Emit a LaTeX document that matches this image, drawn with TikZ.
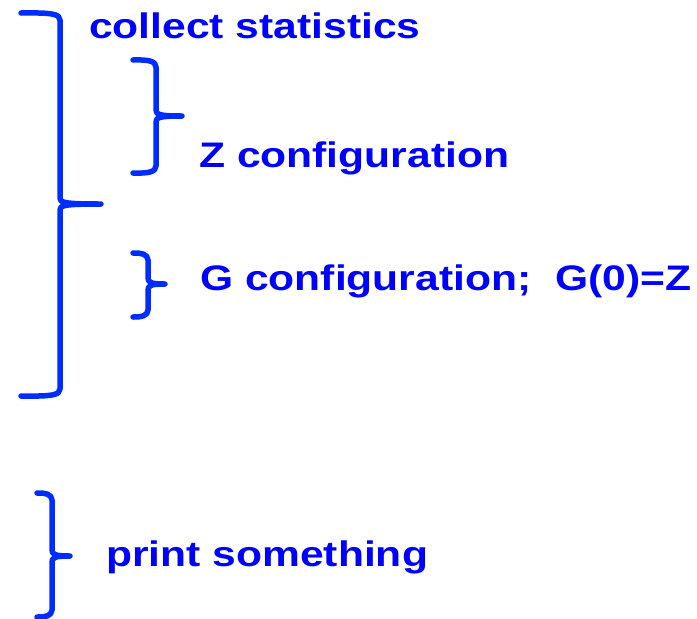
\documentclass[tikz,border=0pt]{standalone}
\usepackage{fontspec}
\setmainfont{Liberation Sans}
\usepackage{graphicx}
\definecolor{txtblue}{RGB}{0,0,255}
\definecolor{brblue}{RGB}{0,45,255}
% right curly brace: #1 arm-end x, #2 spine x, #3 top y, #4 tip y, #5 bottom y, #6 tip x
\newcommand\curlybr[6]{%
  \draw[bracestroke]
    (#1,#3) .. controls ({#2-8},{#3-0.5}) and (#2,{#3+1}) .. (#2,{#3+7})
    -- (#2,{#4-6}) .. controls (#2,{#4-1.5}) and ({#2+3},#4) .. (#6,#4)
    .. controls ({#2+3},#4) and (#2,{#4+1.5}) .. (#2,{#4+6})
    -- (#2,{#5-7}) .. controls (#2,{#5-1}) and ({#2-8},{#5+0.5}) .. (#1,#5);}
\tikzset{
  bracestroke/.style={draw=brblue, line width=5.5pt, line cap=round, line join=round},
  label/.style={text=txtblue, anchor=base west, inner sep=0pt,
    font=\fontsize{35.5}{40}\selectfont\bfseries},
}
\newcommand\wide[1]{\scalebox{1.2}[1]{#1}}
\begin{document}
\begin{tikzpicture}[x=1pt,y=-1pt]
\useasboundingbox (0,0) rectangle (697,619);
\begin{scope}
\clip (0,0) rectangle (697,619);
% outer brace around the statistics block
\curlybr{21}{60}{13}{204}{396}{101}
% brace for the Z configuration
\curlybr{133}{156}{60}{116}{173}{182}
% brace for the G configuration
\curlybr{133}{148}{253}{284}{317}{165}
% brace for the print step
\curlybr{37}{52}{493}{556}{617}{70}
\end{scope}
\node[label] (stats) at (89,38) {\wide{collect statistics}};
\node[label] (zconf) at (199,167) {\wide{Z configuration}};
\node[label] (gconf) at (200,290) {\wide{G configuration;\ \ G(0)=Z}};
\node[label] (print) at (106,566) {\wide{print something}};
\end{tikzpicture}
\end{document}
